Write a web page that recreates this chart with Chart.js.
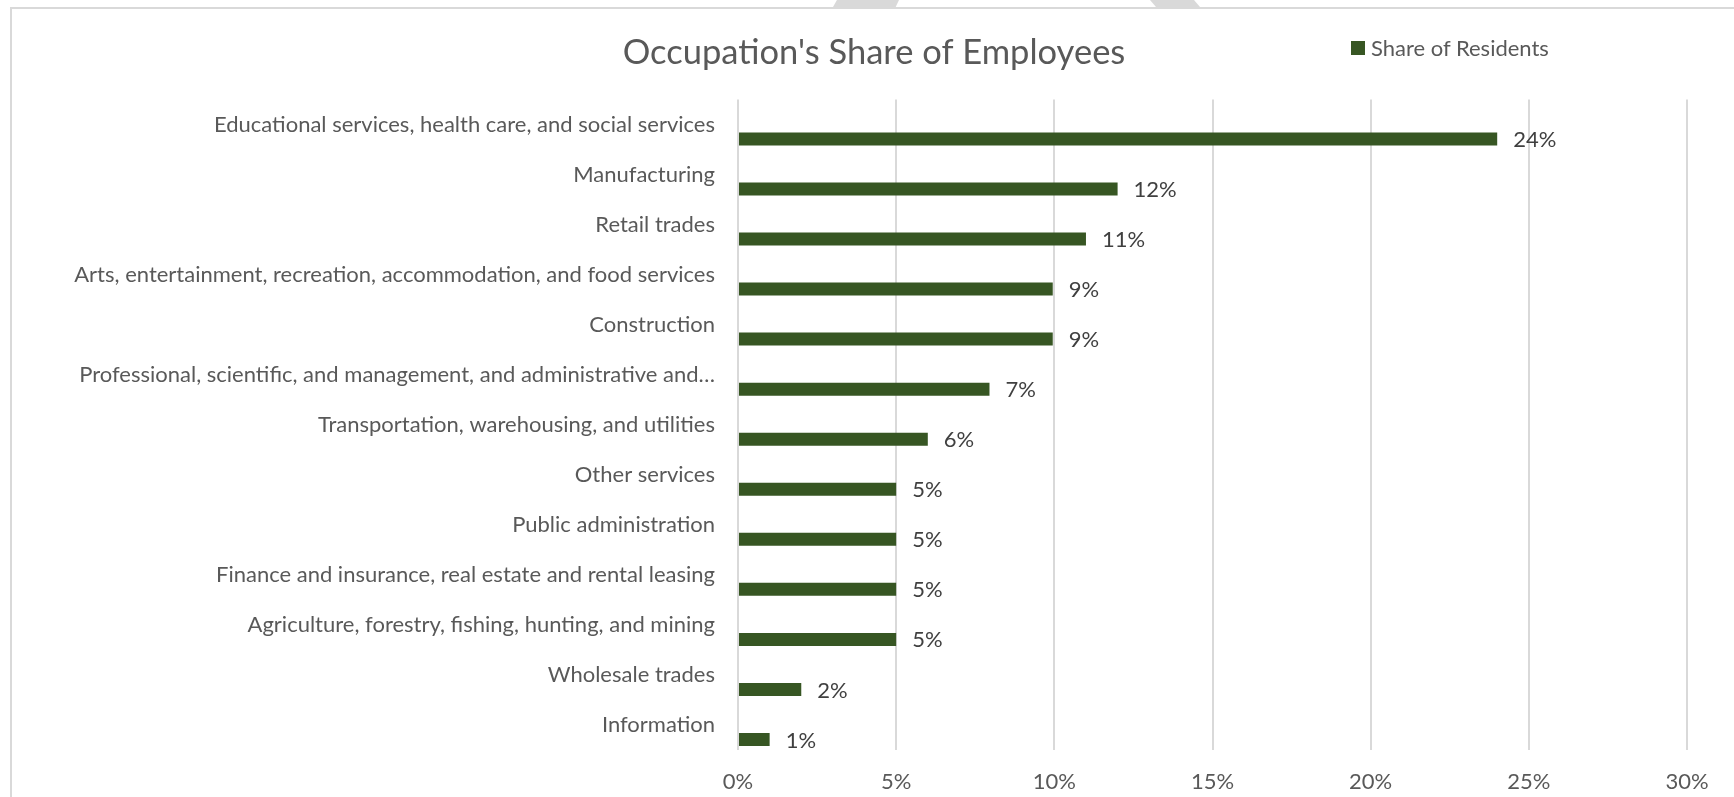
<!DOCTYPE html>
<html lang="en">
<head>
    <meta charset="UTF-8">
    <title>Occupation's Share of Employees</title>
    <script src="https://cdn.jsdelivr.net/npm/chart.js"></script>
    <style>
        html, body {
            margin: 0;
            padding: 0;
            background: #fff;
            overflow: hidden;
        }
        .wrap {
            position: relative;
            width: 1734px;
            height: 797px;
        }
        .frame {
            position: absolute;
            left: 10px;
            top: 7px;
            right: 0;
            bottom: 0;
            border-top: 2px solid #d9d9d9;
            border-left: 2px solid #d9d9d9;
        }
        .shape {
            position: absolute;
            top: 0;
            height: 7px;
            background: #d9d9d9;
        }
        .legend {
            position: absolute;
            left: 1351px;
            top: 34px;
            font-family: Lato, "Open Sans", sans-serif;
            font-size: 22px;
            color: #595959;
            display: flex;
            align-items: center;
        }
        .legend span.box {
            display: inline-block;
            width: 14px;
            height: 14px;
            background: #375623;
            margin-right: 6px;
        }
        canvas {
            position: absolute;
            left: 0;
            top: 0;
        }
    </style>
</head>
<body>
<div class="wrap">
    <div class="shape" style="left:833px;width:66px;clip-path:polygon(6% 0,100% 0,95% 100%,0 100%);"></div>
    <div class="shape" style="left:1150px;width:50px;clip-path:polygon(0 0,88% 0,100% 100%,12% 100%);"></div>
    <div class="frame"></div>
    <canvas id="chart" width="1734" height="797"></canvas>
    <div class="legend"><span class="box"></span><span id="legendText"></span></div>
</div>

<script>
    // data
    const categories = [
        "Educational services, health care, and social services",
        "Manufacturing",
        "Retail trades",
        "Arts, entertainment, recreation, accommodation, and food services",
        "Construction",
        "Professional, scientific, and management, and administrative and\u2026",
        "Transportation, warehousing, and utilities",
        "Other services",
        "Public administration",
        "Finance and insurance, real estate and rental leasing",
        "Agriculture, forestry, fishing, hunting, and mining",
        "Wholesale trades",
        "Information"
    ];
    const shareOfResidents = [24, 12, 11, 9.95, 9.95, 7.95, 6, 5, 5, 5, 5, 2, 1];
    const valueLabels = ["24%", "12%", "11%", "9%", "9%", "7%", "6%", "5%", "5%", "5%", "5%", "2%", "1%"];
    const emptySeries = categories.map(() => null);
    const xTicks = [0, 5, 10, 15, 20, 25, 30];

    const seriesName = "Share of Residents";
    const barColor = "#375623";
    const font = "Lato, 'Open Sans', sans-serif";

    document.getElementById("legendText").innerText = seriesName;

    // value labels to the right of each bar
    const barLabels = {
        id: "barLabels",
        afterDatasetsDraw(chart) {
            const ctx = chart.ctx;
            const meta = chart.getDatasetMeta(1);
            ctx.save();
            ctx.font = "22px " + font;
            ctx.fillStyle = "#404040";
            ctx.textAlign = "left";
            ctx.textBaseline = "middle";
            meta.data.forEach((bar, i) => {
                ctx.fillText(valueLabels[i], bar.x + 16, bar.y + 1);
            });
            ctx.restore();
        }
    };

    const ctx = document.getElementById("chart").getContext("2d");
    const chart = new Chart(ctx, {
        type: "bar",
        data: {
            labels: categories,
            datasets: [
                { label: "", data: emptySeries, backgroundColor: "transparent" },
                { label: seriesName, data: shareOfResidents, backgroundColor: barColor }
            ]
        },
        options: {
            indexAxis: "y",
            responsive: false,
            animation: false,
            categoryPercentage: 1.16,
            barPercentage: 0.448,
            layout: { padding: { left: 61, right: 47, top: 0, bottom: 0 } },
            plugins: {
                legend: { display: false },
                tooltip: { enabled: false },
                title: {
                    display: true,
                    text: "Occupation's Share of Employees",
                    color: "#595959",
                    font: { family: font, size: 34.5, weight: "normal" },
                    padding: { top: 32, bottom: 26 }
                }
            },
            scales: {
                x: {
                    min: 0,
                    max: 30,
                    afterBuildTicks(scale) {
                        scale.ticks = xTicks.map(v => ({ value: v }));
                    },
                    afterFit(scale) { scale.height = 47; },
                    ticks: {
                        callback: v => v + "%",
                        color: "#595959",
                        font: { family: font, size: 22 },
                        padding: 19
                    },
                    grid: { color: "#d9d9d9", lineWidth: 2, drawTicks: false },
                    border: { display: false }
                },
                y: {
                    afterFit(scale) { scale.width = 677; },
                    ticks: {
                        color: "#595959",
                        font: { family: font, size: 22 },
                        padding: 23,
                        autoSkip: false
                    },
                    grid: { display: false, drawTicks: false },
                    border: { display: false }
                }
            }
        },
        plugins: [barLabels]
    });
</script>
</body>
</html>
